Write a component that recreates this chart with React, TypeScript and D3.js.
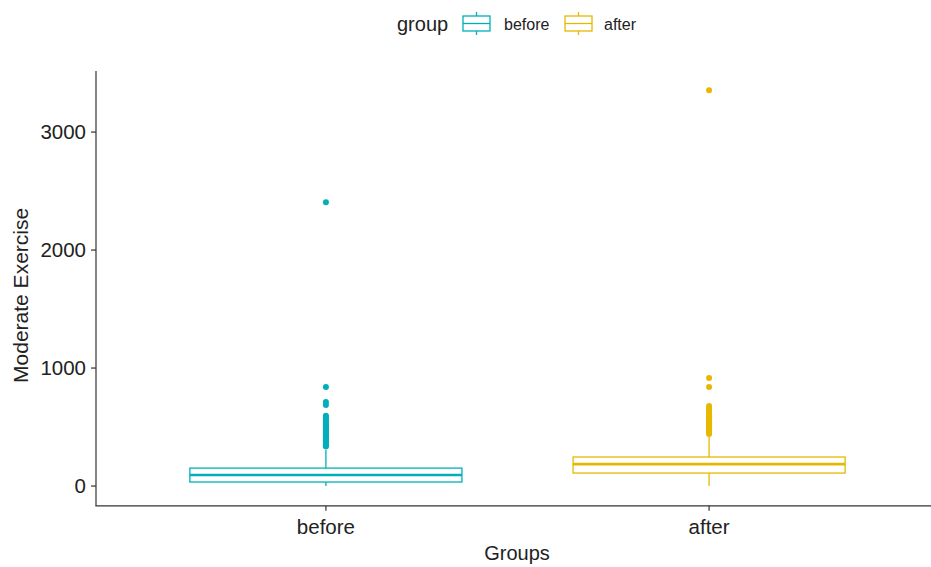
import React from "react";
import * as d3 from "d3";

const groups = ["before", "after"];
const colors = ["#00AFBB", "#E7B800"];
// box stats: [lowerWhisker, q1, median, q3, upperWhisker]
const beforeStats = [0, 34, 93, 152, 305];
const afterStats = [0, 110, 186, 246, 420];
const beforeOutliers = [335, 345, 355, 365, 375, 385, 395, 405, 415, 425, 435, 445, 455, 465, 475, 485, 495, 505, 515, 525, 540, 555, 570, 585, 595, 686, 712, 839, 2405];
const afterOutliers = [440, 450, 460, 470, 480, 490, 500, 510, 520, 530, 540, 550, 560, 570, 580, 590, 600, 615, 630, 645, 660, 678, 839, 915, 3355];
const yTicks = [0, 1000, 2000, 3000];

const W = 931, H = 567;

export default function App() {
  const y = d3.scaleLinear().domain([-167.5, 3517.5]).range([505.8, 71]);
  const x = d3.scaleLinear().domain([0.4, 2.6]).range([96, 939]);
  const boxHalf = 0.355;
  const stats = [beforeStats, afterStats];
  const outs = [beforeOutliers, afterOutliers];
  const font = "'Liberation Sans', Arial, sans-serif";
  const axisColor = "#333";
  const x0 = x(0.4), yb = y(-167.5);
  return (
    <svg width={W} height={H} style={{ position: "absolute", left: 0, top: 0, background: "#fff" }} fontFamily={font}>
      {/* boxes */}
      {groups.map((g, i) => {
        const s = stats[i];
        const cx = x(i + 1);
        const l = x(i + 1 - boxHalf), r = x(i + 1 + boxHalf);
        const c = colors[i];
        return (
          <g key={g} stroke={c} fill="none" strokeWidth={1.3}>
            <line x1={cx} x2={cx} y1={y(s[3])} y2={y(s[4])} />
            <line x1={cx} x2={cx} y1={y(s[1])} y2={y(s[0])} />
            <rect x={l} width={r - l} y={y(s[3])} height={y(s[1]) - y(s[3])} fill="#fff" />
            <line x1={l} x2={r} y1={y(s[2])} y2={y(s[2])} strokeWidth={2.6} />
            {outs[i].map((v, j) => (
              <circle key={j} cx={cx} cy={y(v)} r={3} fill={c} stroke="none" />
            ))}
          </g>
        );
      })}
      {/* axes */}
      <line x1={x0} x2={x0} y1={y(3517.5)} y2={yb} stroke={axisColor} strokeWidth={1.2} />
      <line x1={x0 - 0.6} x2={931} y1={yb} y2={yb} stroke={axisColor} strokeWidth={1.2} />
      {yTicks.map((t) => (
        <g key={t}>
          <line x1={x0 - 5} x2={x0} y1={y(t)} y2={y(t)} stroke={axisColor} strokeWidth={1.2} />
          <text x={x0 - 10} y={y(t)} dy="0.36em" textAnchor="end" fontSize={20.5} fill="#222">{t}</text>
        </g>
      ))}
      {groups.map((g, i) => (
        <g key={g}>
          <line x1={x(i + 1)} x2={x(i + 1)} y1={yb} y2={yb + 5} stroke={axisColor} strokeWidth={1.2} />
          <text x={x(i + 1)} y={yb + 28} textAnchor="middle" fontSize={20.5} fill="#222">{g}</text>
        </g>
      ))}
      <text x={517} y={560} textAnchor="middle" fontSize={20} fill="#222">Groups</text>
      <text transform={`translate(28,${(y(3517.5) + yb) / 2 + 7}) rotate(-90)`} textAnchor="middle" fontSize={21} fill="#222">Moderate Exercise</text>
      {/* legend */}
      <text x={397} y={31} fontSize={20} fill="#222">group</text>
      {groups.map((g, i) => {
        const kx = [463, 565][i];
        const tx = [504, 604][i];
        const c = colors[i];
        return (
          <g key={g}>
            <g stroke={c} fill="none" strokeWidth={1.3}>
              <line x1={kx + 13.5} x2={kx + 13.5} y1={12} y2={16} />
              <line x1={kx + 13.5} x2={kx + 13.5} y1={31} y2={35} />
              <rect x={kx} y={16} width={27} height={15} fill="#fff" />
              <line x1={kx} x2={kx + 27} y1={23.5} y2={23.5} />
            </g>
            <text x={tx} y={30} fontSize={16} fill="#222">{g}</text>
          </g>
        );
      })}
    </svg>
  );
}
